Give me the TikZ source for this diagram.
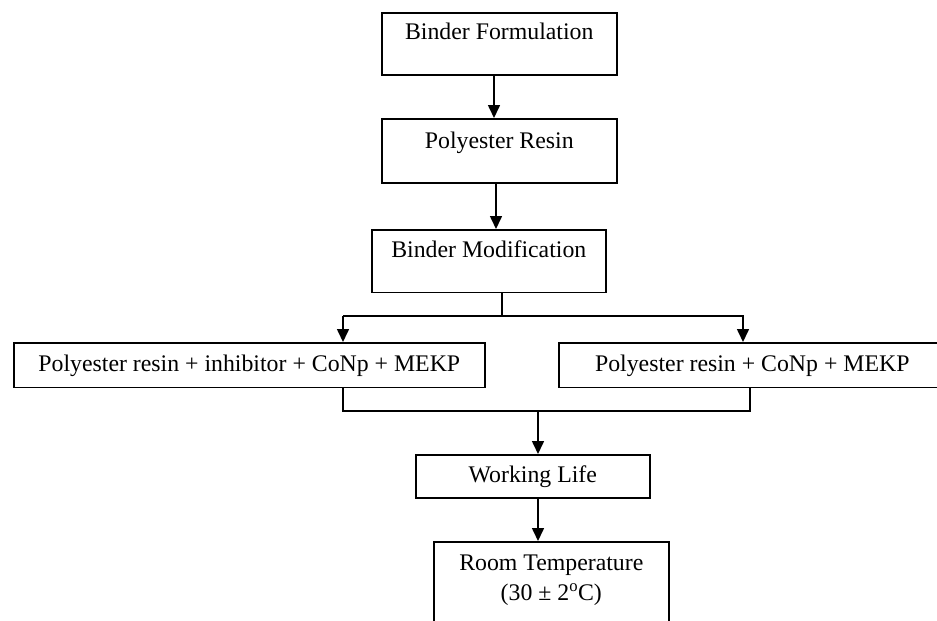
\documentclass[tikz,border=0pt]{standalone}
\usepackage{fontspec}
\setmainfont{Liberation Serif}
\usetikzlibrary{arrows.meta}

\tikzset{
  stepbox/.style={draw, line width=1.6pt, inner xsep=0pt, inner ysep=0pt,
    anchor=north west, align=center,
    font=\fontsize{23.8}{30}\selectfont},
  link/.style={line width=1.6pt},
  flow/.style={link, -{Triangle[width=12pt,length=13pt]}}
}

\begin{document}
\begin{tikzpicture}[x=1pt, y=-1pt]
  \useasboundingbox (0,0) rectangle (937,621);
  \clip (0,0) rectangle (937,621);
  \fill[white] (0,0) rectangle (937,621);

  % process boxes (text sits near the top of each box)
  \node[stepbox, minimum width=235pt, text height=27pt, text depth=35pt]
    (b1) at (381,12) {Binder Formulation};
  \node[stepbox, minimum width=235pt, text height=30pt, text depth=34pt]
    (b2) at (381,118) {Polyester Resin};
  \node[stepbox, minimum width=234pt, text height=27.7pt, text depth=35pt]
    (b3) at (371,229) {Binder Modification};
  \node[stepbox, minimum width=471pt, text height=28.7pt, text depth=16pt]
    (pl) at (13,342) {Polyester resin + inhibitor + CoNp + MEKP};
  \node[stepbox, minimum width=387pt, text height=28.7pt, text depth=16pt]
    (pr) at (558,342) {Polyester resin + CoNp + MEKP};
  \node[stepbox, minimum width=234pt, text height=27.7pt, text depth=15.3pt]
    (wl) at (415,454) {Working Life};
  \node[stepbox, minimum width=235pt, text height=59pt, text depth=40pt]
    (rt) at (433,541) {Room Temperature\\(30 ± 2\textsuperscript{o}C)};

  % split and merge points
  \coordinate (split) at (502,316);
  \coordinate (sl) at (343,316);
  \coordinate (sr) at (743,316);
  \coordinate (ml) at (343,411);
  \coordinate (mr) at (750,411);
  \coordinate (mc) at (538,411);

  % connectors
  \draw[flow] (b1.south -| 494,0) -- (b2.north -| 494,0);
  \draw[flow] (b2.south -| 496,0) -- (b3.north -| 496,0);
  \draw[link] (b3.south -| split) -- (split);
  \draw[flow] (sl) -- (sr) -- (pr.north -| sr);
  \draw[flow] (sl) -- (pl.north -| sl);
  \draw[link] (pl.south -| ml) -- (ml) -- (mr) -- (pr.south -| mr);
  \draw[flow] (mc) -- (wl.north -| mc);
  \draw[flow] (wl.south -| mc) -- (rt.north -| mc);
\end{tikzpicture}
\end{document}
